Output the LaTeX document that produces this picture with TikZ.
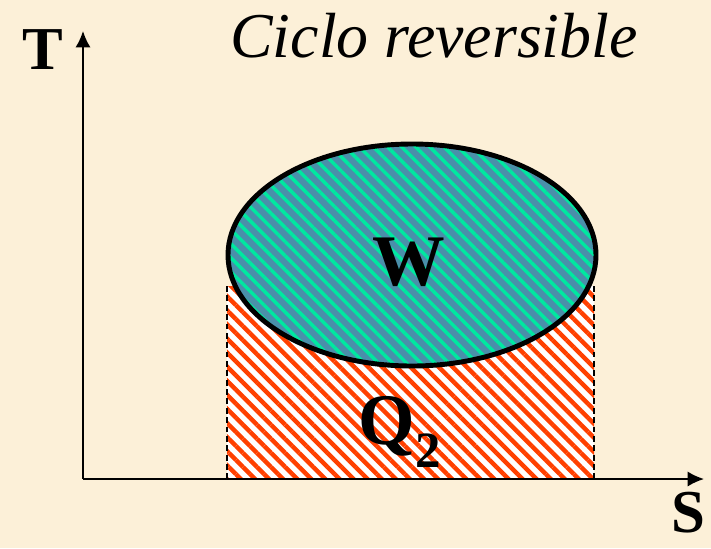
\documentclass[tikz,border=0pt]{standalone}
\usepackage{fontspec}
\setmainfont{Liberation Serif}
\usetikzlibrary{arrows.meta,patterns.meta}

\definecolor{paper}{RGB}{252,240,216}
\definecolor{hatchred}{RGB}{255,64,0}
\definecolor{cycleblue}{RGB}{74,143,170}
\definecolor{cyclegreen}{RGB}{0,232,160}

\tikzset{
  axislabel/.style={font=\fontsize{52}{58}\selectfont\bfseries, inner sep=0pt},
  arealabel/.style={font=\fontsize{62}{70}\selectfont\bfseries},
  axis/.style={line width=1.6pt, -{Latex[length=14pt,width=13pt]}},
  sideline/.style={line width=1.3pt, dash pattern=on 5pt off 3pt},
}

\begin{document}
\begin{tikzpicture}[x=0.03cm, y=-0.03cm]
  \fill[paper] (0,0) rectangle (711,548);
  \useasboundingbox (0,0) rectangle (711,548);

  % Q2 area under the cycle
  \coordinate (a) at (227,286);
  \coordinate (b) at (594,479);
  \fill[white] (a) rectangle (b);
  \fill[pattern={Lines[angle=-45,distance=8.5pt,line width=3.8pt]}, pattern color=hatchred] (a) rectangle (b);
  \draw[sideline] (a) -- (a |- b);
  \draw[sideline] (b |- a) -- (b);

  % Reversible cycle
  \coordinate (cyc) at (412,255);
  \fill[cycleblue] (cyc) ellipse [x radius=184, y radius=111];
  \fill[pattern={Lines[angle=-45,distance=8.5pt,line width=3pt]}, pattern color=cyclegreen] (cyc) ellipse [x radius=184, y radius=111];
  \draw[line width=4.2pt] (cyc) ellipse [x radius=184, y radius=111];

  % Axes
  \coordinate (O) at (83,479);
  \coordinate (Tend) at (83,31);
  \coordinate (Send) at (704,479);
  \draw[axis] (O) -- (Tend);
  \draw[axis] (O) -- (Send);
  \node[axislabel] (T) at (43,50) {T};
  \node[axislabel] (S) at (688,513) {S};

  % Labels
  \node[font=\fontsize{54.5}{60}\selectfont\itshape] (title) at (434,36) {Ciclo reversible};
  \node[arealabel] (W) at (409,262) {W};
  \node[arealabel] (Q) at (400,432) {Q\textsubscript{2}};
\end{tikzpicture}
\end{document}
